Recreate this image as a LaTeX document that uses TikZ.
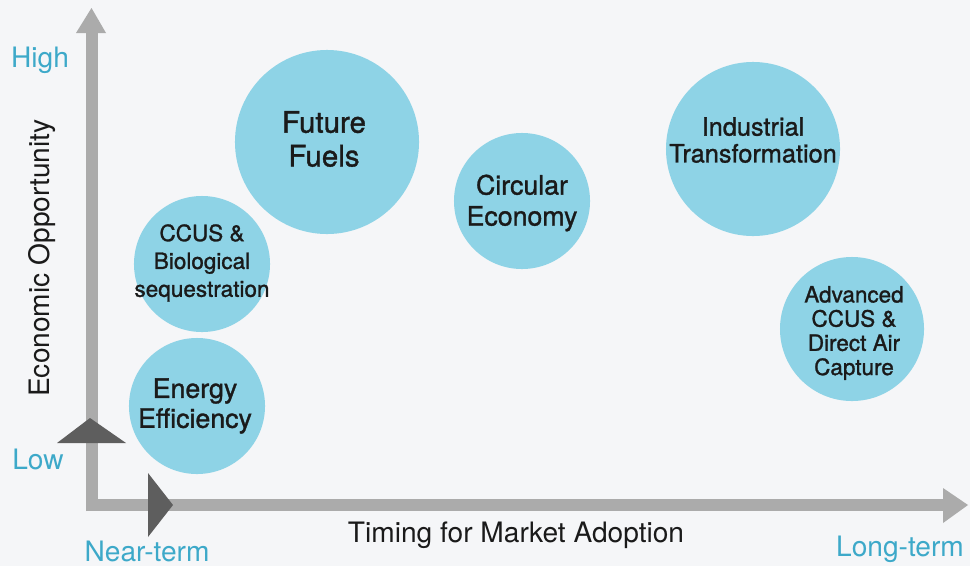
\documentclass[tikz,border=0pt]{standalone}
\usepackage{fontspec}
\setmainfont{TeX Gyre Heros}
\newfontfamily\bubblefont{TeX Gyre Heros}[FakeBold=1.2]
\usetikzlibrary{calc}

\definecolor{paper}{HTML}{F5F6F8}
\definecolor{bubblecol}{HTML}{8ED3E6}
\definecolor{axiscol}{HTML}{ABABAB}
\definecolor{markcol}{HTML}{5E5E5E}
\definecolor{tickcol}{HTML}{3DA9C9}
\definecolor{inkcol}{HTML}{1A1A1A}

\tikzset{
  bubble/.style={circle, fill=bubblecol, inner sep=0pt, minimum size=#1},
  bubbletext/.style={align=center, text=inkcol, inner sep=0pt},
  axislabel/.style={text=inkcol, font=\fontsize{20}{24}\selectfont},
  endlabel/.style={text=tickcol, font=\fontsize{20}{24}\selectfont},
  axisbar/.style={draw=axiscol, line width=8.5pt},
}

\begin{document}
\begin{tikzpicture}[x=0.025cm, y=-0.025cm]

      \fill[paper] (0,0) rectangle (970,566);
      \useasboundingbox (0,0) rectangle (970,566);

      % axes
      \coordinate (O)  at (92,505);
      \coordinate (yt) at (92,33);
      \coordinate (xt) at (943,505);
      \draw[axisbar] (92,511) -- (yt);
      \draw[axisbar] (86,505) -- (xt);
      \fill[axiscol] (76,33) -- (91.5,8) -- (106,33) -- cycle;
      \fill[axiscol] (943,488) -- (968,505) -- (943,523) -- cycle;

      % low / near-term markers
      \fill[markcol] (57,443) -- (90,418) -- (126,443) -- cycle;
      \fill[markcol] (148,473) -- (173,505) -- (148,537) -- cycle;

      % bubbles
      \node[bubble=4.6cm]  (fuels) at (327,142) {};
      \node[bubble=3.4cm]  (ccus)  at (202,264) {};
      \node[bubble=3.4cm]  (eff)   at (197,406) {};
      \node[bubble=3.4cm]  (circ)  at (522,201) {};
      \node[bubble=4.35cm] (ind)   at (753,149) {};
      \node[bubble=3.6cm]  (dac)   at (852,329) {};

      \begin{scope}[every node/.style={bubbletext}]
        \node[font=\bubblefont\fontsize{21}{24}\selectfont]
          (fuelstxt) at ($(fuels)+(-3,-3)$) {Future\\Fuels};
        \node[font=\bubblefont\fontsize{16}{19.8}\selectfont]
          (ccustxt) at ($(ccus)+(0,-1)$) {CCUS \&\\Biological\\sequestration};
        \node[font=\bubblefont\fontsize{19}{21.3}\selectfont]
          (efftxt) at ($(eff)+(-2,0)$) {Energy\\Efficiency};
        \node[font=\bubblefont\fontsize{19}{22}\selectfont]
          (circtxt) at ($(circ)+(0,2)$) {Circular\\Economy};
        \node[font=\bubblefont\fontsize{18}{19.1}\selectfont]
          (indtxt) at ($(ind)+(0,-9)$) {Industrial\\Transformation};
        \node[font=\bubblefont\fontsize{16}{17.2}\selectfont]
          (dactxt) at ($(dac)+(2,4)$) {Advanced\\CCUS \&\\Direct Air\\Capture};
      \end{scope}

      \node[endlabel] (high) at (40,60) {High};
      \node[endlabel] (low)  at (38,459) {Low};
      \node[endlabel] (near) at (147,551) {Near-term};
      \node[endlabel] (long) at (900,549) {Long-term};

      \node[axislabel] (xlab) at (516,535) {Timing for Market Adoption};
      \node[axislabel, rotate=90] (ylab) at (42,258) {Economic Opportunity};

    \end{tikzpicture}
\end{document}
